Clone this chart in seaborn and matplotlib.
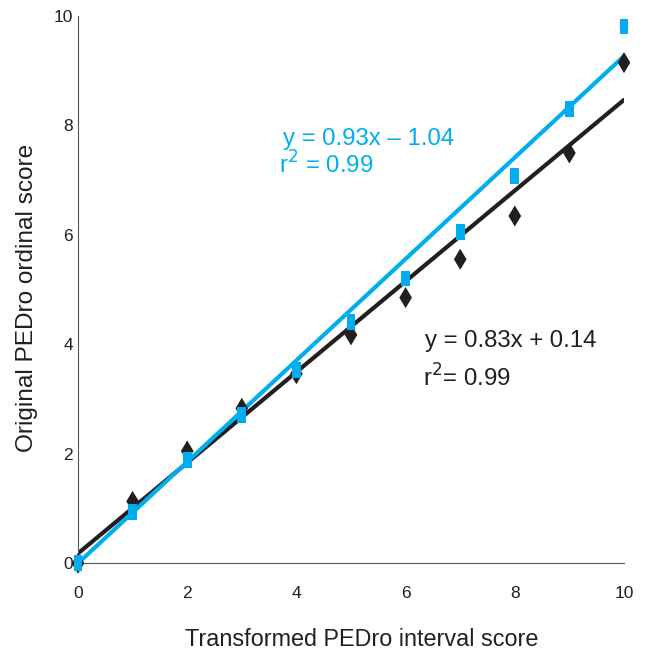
import matplotlib
matplotlib.use("Agg")
import matplotlib.pyplot as plt
import seaborn as sns
import pandas as pd
import numpy as np

# ---- data ----
x_scores = [0, 1, 2, 3, 4, 5, 6, 7, 8, 9, 10]
original_black = [0.0, 1.13, 2.05, 2.83, 3.46, 4.17, 4.85, 5.55, 6.34, 7.49, 9.14]
transformed_blue = [0.0, 0.94, 1.89, 2.70, 3.53, 4.40, 5.20, 6.05, 7.07, 8.30, 9.80]
black_line = (0.828, 0.18)   # slope, intercept of drawn line
blue_line = (0.926, 0.0)
line_x = [0, 10]
blue_label = ["y = 0.93x \u2013 1.04", "r$^2$ = 0.99"]
black_label = ["y = 0.83x + 0.14", "r$^2$= 0.99"]
xticks = [0, 2, 4, 6, 8, 10]
yticks = [0, 2, 4, 6, 8, 10]

BLACK = "#231F20"
BLUE = "#00AEEF"

sns.set_theme(style="white")
plt.rcParams['font.family'] = ['Liberation Sans', 'DejaVu Sans']

fig = plt.figure(figsize=(6.45, 6.54), dpi=100)
ax = fig.add_axes([78/645, 1-563.3/654, (624-78)/645, (563.3-15.5)/654])

df = pd.DataFrame({
    "x": x_scores * 2,
    "y": original_black + transformed_blue,
    "series": ["black"] * len(x_scores) + ["blue"] * len(x_scores),
})

lx = np.array(line_x, dtype=float)
sns.lineplot(x=lx, y=black_line[0]*lx + black_line[1], color=BLACK, lw=3, ax=ax, zorder=2)
sns.lineplot(x=lx, y=blue_line[0]*lx + blue_line[1], color=BLUE, lw=3, ax=ax, zorder=2)

rect = [(-0.55, -1), (0.55, -1), (0.55, 1), (-0.55, 1), (-0.55, -1)]
sns.scatterplot(data=df[df.series == "black"], x="x", y="y", marker="d", s=115,
                color=BLACK, edgecolor="none", ax=ax, zorder=3, clip_on=False, legend=False)
sns.scatterplot(data=df[df.series == "blue"], x="x", y="y", marker=rect, s=130,
                color=BLUE, edgecolor="none", ax=ax, zorder=4, clip_on=False, legend=False)

ax.set_xlim(0, 10)
ax.set_ylim(0, 10)
ax.set_xticks(xticks)
ax.set_yticks(yticks)
ax.tick_params(axis="x", direction="out", length=4, width=0.8, color="#555555",
               labelsize=12.5, labelcolor=BLACK, pad=12)
ax.tick_params(axis="y", direction="out", length=2.5, width=0.8, color="#555555",
               labelsize=12.5, labelcolor=BLACK, pad=1)
for side in ["top", "right"]:
    ax.spines[side].set_visible(False)
for side in ["left", "bottom"]:
    ax.spines[side].set_color("#555555")
    ax.spines[side].set_linewidth(0.8)

ax.set_xlabel("Transformed PEDro interval score", fontsize=16.8, color=BLACK, labelpad=20)
ax.xaxis.label.set_x(0.52)
ax.set_ylabel("Original PEDro ordinal score", fontsize=17.6, color=BLACK, labelpad=11.5)
ax.yaxis.label.set_y(0.485)

ax.text(3.755, 7.64, blue_label[0], fontsize=17.3, color=BLUE, va="baseline")
ax.text(3.68, 7.12, blue_label[1], fontsize=17.3, color=BLUE, va="baseline")
ax.text(6.355, 3.95, black_label[0], fontsize=17.3, color=BLACK, va="baseline")
ax.text(6.32, 3.22, black_label[1], fontsize=17.3, color=BLACK, va="baseline")

fig.savefig("out.png", dpi=100)
